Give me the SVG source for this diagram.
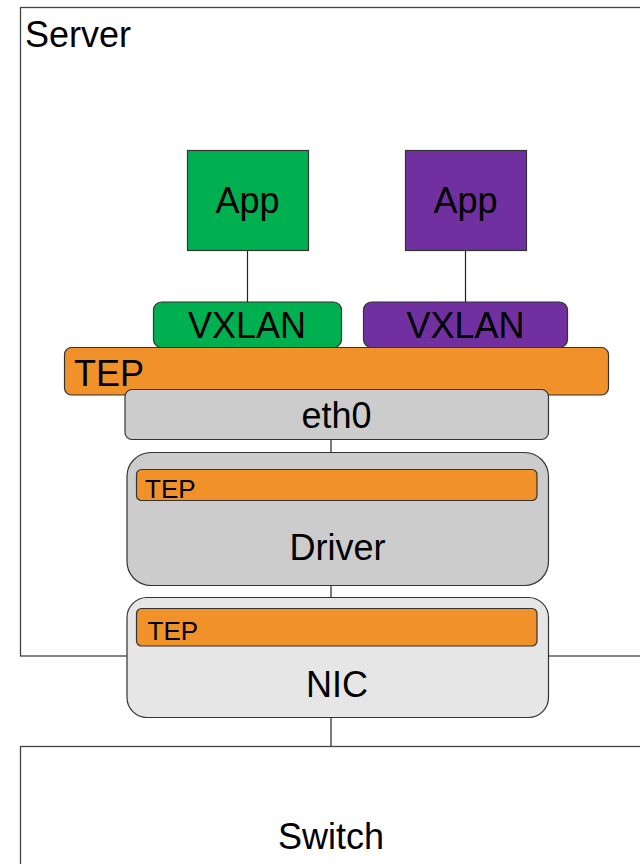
<svg xmlns="http://www.w3.org/2000/svg" width="640" height="864" viewBox="0 0 640 864">
  <style>
    text { font-family: "Liberation Sans", Arial, sans-serif; fill: #000; }
    .big { font-size: 36px; }
    .small { font-size: 26px; }
    .mid { text-anchor: middle; }
    .frame { fill: #fff; stroke: #444; stroke-width: 1.3; }
    .box { stroke: #333; stroke-width: 1.2; }
    .green { fill: #00b050; }
    .purple { fill: #7030a0; }
    .orange { fill: #f0912a; }
    .grey { fill: #cccccc; }
    .light { fill: #e6e6e6; }
    .wire { stroke: #222; stroke-width: 1.2; fill: none; }
  </style>

  <!-- outer server enclosure -->
  <g id="server">
    <rect class="frame" x="20.5" y="7.5" width="640" height="648.5"/>
    <text class="big" x="25" y="47">Server</text>
  </g>

  <!-- switch below -->
  <g id="switch">
    <rect class="frame" x="20.5" y="746.5" width="640" height="140"/>
    <text class="big mid" x="331" y="849">Switch</text>
  </g>

  <!-- connectors -->
  <g id="connectors">
    <line class="wire" x1="247.5" y1="250" x2="247.5" y2="302"/>
    <line class="wire" x1="465.5" y1="250" x2="465.5" y2="302"/>
    <line class="wire" x1="331" y1="439" x2="331" y2="453"/>
    <line class="wire" x1="331" y1="585" x2="331" y2="598"/>
    <line class="wire" x1="331" y1="717" x2="331" y2="746.5"/>
  </g>

  <g id="app-green">
    <rect class="box green" x="187.5" y="150.5" width="121" height="100"/>
    <text class="big mid" x="247.5" y="213">App</text>
  </g>

  <g id="app-purple">
    <rect class="box purple" x="405.5" y="150.5" width="121" height="100"/>
    <text class="big mid" x="465.5" y="213">App</text>
  </g>

  <g id="vxlan-green">
    <rect class="box green" x="153.5" y="302" width="188" height="45.5" rx="8"/>
    <text class="big mid" x="247" y="338">VXLAN</text>
  </g>

  <g id="vxlan-purple">
    <rect class="box purple" x="363.5" y="302" width="204" height="45.5" rx="8"/>
    <text class="big mid" x="465.5" y="338">VXLAN</text>
  </g>

  <g id="tep-host">
    <rect class="box orange" x="64.5" y="347.5" width="544" height="47.5" rx="7"/>
    <text class="big" x="74" y="386">TEP</text>
  </g>

  <g id="eth0">
    <rect class="box grey" x="125" y="389.5" width="423.5" height="50" rx="7"/>
    <text class="big mid" x="336.5" y="427.5">eth0</text>
  </g>

  <g id="driver">
    <rect class="box grey" x="127" y="452.5" width="421.5" height="133" rx="24"/>
    <rect class="box orange" x="136.5" y="469.5" width="400.5" height="31" rx="5"/>
    <text class="small" x="145" y="498">TEP</text>
    <text class="big mid" x="337.5" y="560">Driver</text>
  </g>

  <g id="nic">
    <rect class="box light" x="127" y="597.5" width="421.5" height="120" rx="20"/>
    <rect class="box orange" x="136.5" y="608.5" width="400.5" height="37.5" rx="5"/>
    <text class="small" x="147.5" y="640">TEP</text>
    <text class="big mid" x="337" y="697">NIC</text>
  </g>
</svg>
